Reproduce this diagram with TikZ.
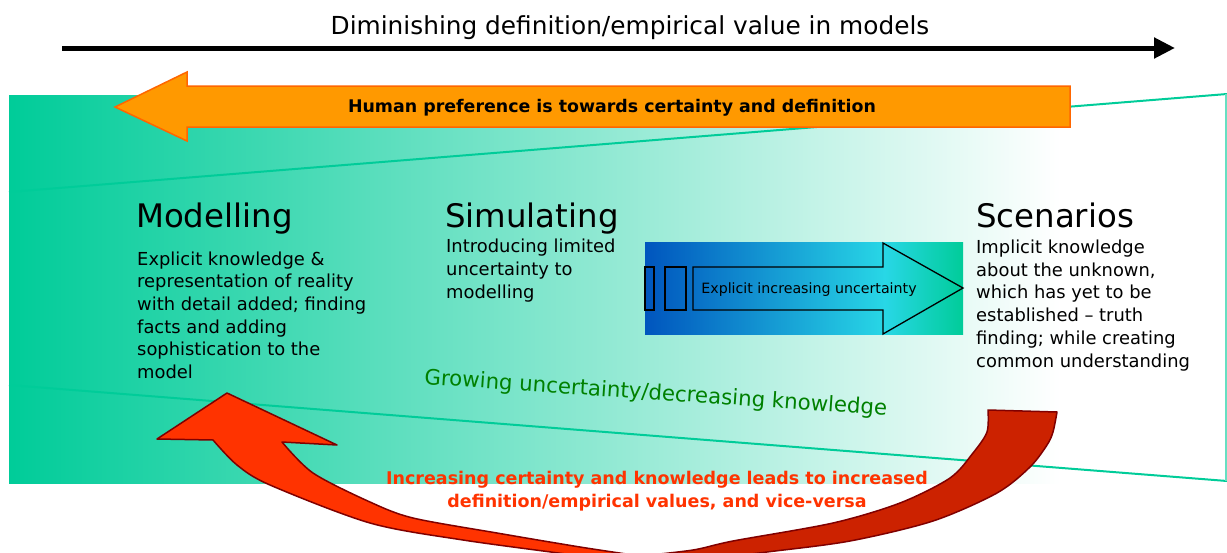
\documentclass[tikz,border=0pt]{standalone}
\usepackage{fontspec}
\setmainfont{DejaVu Sans}
\usetikzlibrary{arrows.meta}
\definecolor{tealA}{RGB}{0,204,153}
\definecolor{tealLine}{RGB}{0,204,153}
\definecolor{orangeFill}{RGB}{255,153,0}
\definecolor{orangeEdge}{RGB}{255,102,0}
\definecolor{redA}{RGB}{255,51,0}
\definecolor{redB}{RGB}{204,34,0}
\definecolor{redEdge}{RGB}{128,0,0}
\definecolor{greenText}{RGB}{0,128,0}
\definecolor{redText}{RGB}{255,51,0}
\definecolor{blueA}{RGB}{0,85,190}
\definecolor{blueB}{RGB}{0,150,225}
\definecolor{cyanA}{RGB}{40,215,230}
\begin{document}
\begin{tikzpicture}[x=1pt,y=-1pt,
  heading/.style={anchor=base west,inner sep=0pt,font=\fontsize{32.4}{38}\selectfont},
  % multi-line text: the base anchor sits on the last line
  bodytext/.style={anchor=base west,inner sep=0pt,align=left,font=\fontsize{17.9}{22.7}\selectfont},
  funnel/.style={draw=tealLine,line width=2pt},
  redarrow/.style={draw=redEdge,line width=1.5pt,line join=round},
  titlearrow/.style={line width=5pt,-{Triangle[length=21pt,width=20pt]}}
]
\useasboundingbox (0,0) rectangle (1227,552);
\begin{scope}
\clip (0,0) rectangle (1227,552);

% shaded backdrop
\fill[left color=tealA,right color=white] (9,95) rectangle (1060,483);
% funnel outline
\coordinate (ftl) at (9,192);
\coordinate (ftr) at (1227,94);
\coordinate (fbl) at (9,385);
\coordinate (fbr) at (1227,481);
\draw[funnel] (ftl) -- (ftr);
\draw[funnel] (fbl) -- (fbr);
\draw[draw=tealLine!60,line width=1.2pt] (1226,94) -- (1226,481);

% title and its arrow
\node[inner sep=0pt,font=\fontsize{24.8}{28}\selectfont] (title) at (630,28) {Diminishing definition/empirical value in models};
\coordinate (tal) at (62,48);
\coordinate (tar) at (1175,48);
\draw[titlearrow] (tal) -- (tar);

% orange arrow pointing left
\filldraw[fill=orangeFill,draw=orangeEdge,line width=1.5pt]
  (115,107) -- (187,72) -- (187,86) -- (1070,86) -- (1070,127) -- (187,127) -- (187,141) -- cycle;
\node[inner sep=0pt,font=\bfseries\fontsize{17.4}{20}\selectfont] (pref) at (612,108) {Human preference is towards certainty and definition};

% three columns
\node[heading] (mod) at (136,227) {Modelling};
\node[bodytext] (modtxt) at (137,378.5) {Explicit knowledge \&\\representation of reality\\with detail added; finding\\facts and adding\\sophistication to the\\model};
\node[heading] (sim) at (445,227) {Simulating};
\node[bodytext] (simtxt) at (446,298) {Introducing limited\\uncertainty to\\modelling};
\node[heading] (scen) at (976,227) {Scenarios};
\node[bodytext] (scentxt) at (976,367) {Implicit knowledge\\about the unknown,\\which has yet to be\\established -- truth\\finding;  while creating\\common understanding};

% blue panel with striped arrow
\fill[left color=blueA,right color=cyanA] (645,242) rectangle (885,334);
\fill[left color=cyanA,right color=tealA] (884.5,242) rectangle (963,334);
\draw[line width=1.3pt] (645,267) rectangle (654,310);
\draw[line width=1.3pt] (665,267) rectangle (686,310);
\draw[line width=1.3pt,line join=miter] (693,267) -- (883,267) -- (883,243) -- (963,288) -- (883,334) -- (883,310) -- (693,310) -- cycle;
\node[inner sep=0pt,font=\fontsize{14.2}{17}\selectfont] (unc) at (809,290) {Explicit increasing uncertainty};

% curved arrow, left half
\filldraw[redarrow,fill=redA] (227,393) -- (337,445) -- (282,442)
  -- plot[smooth] coordinates {(282,442) (313,473) (370,502) (413,518) (497,533) (580,547) (640,556)}
  -- (640,566)
  -- plot[smooth] coordinates {(640,566) (580,556) (463,540) (370,523) (270,485) (237,465) (213,440)}
  -- (157,439) -- cycle;
% curved arrow, right half
\filldraw[redarrow,fill=redB] (640,556)
  -- plot[smooth] coordinates {(640,556) (693,550) (733,541) (833,523) (900,503) (950,478) (973,453) (987,432) (988,410)}
  -- (1057,412)
  -- plot[smooth] coordinates {(1057,412) (1053,432) (1047,445) (1030,467) (997,493) (933,521) (850,541) (767,552) (700,560) (640,566)}
  -- cycle;

% captions
\node[anchor=base west,inner sep=0pt,rotate=-3.9,text=greenText,font=\fontsize{21.3}{24}\selectfont] (grow) at (424,384) {Growing uncertainty/decreasing knowledge};
\node[inner sep=0pt,align=center,text=redText,font=\bfseries\fontsize{17.5}{23}\selectfont] (inc) at (657,491) {Increasing certainty and knowledge leads to increased\\definition/empirical values, and vice-versa};
\end{scope}
\end{tikzpicture}
\end{document}
